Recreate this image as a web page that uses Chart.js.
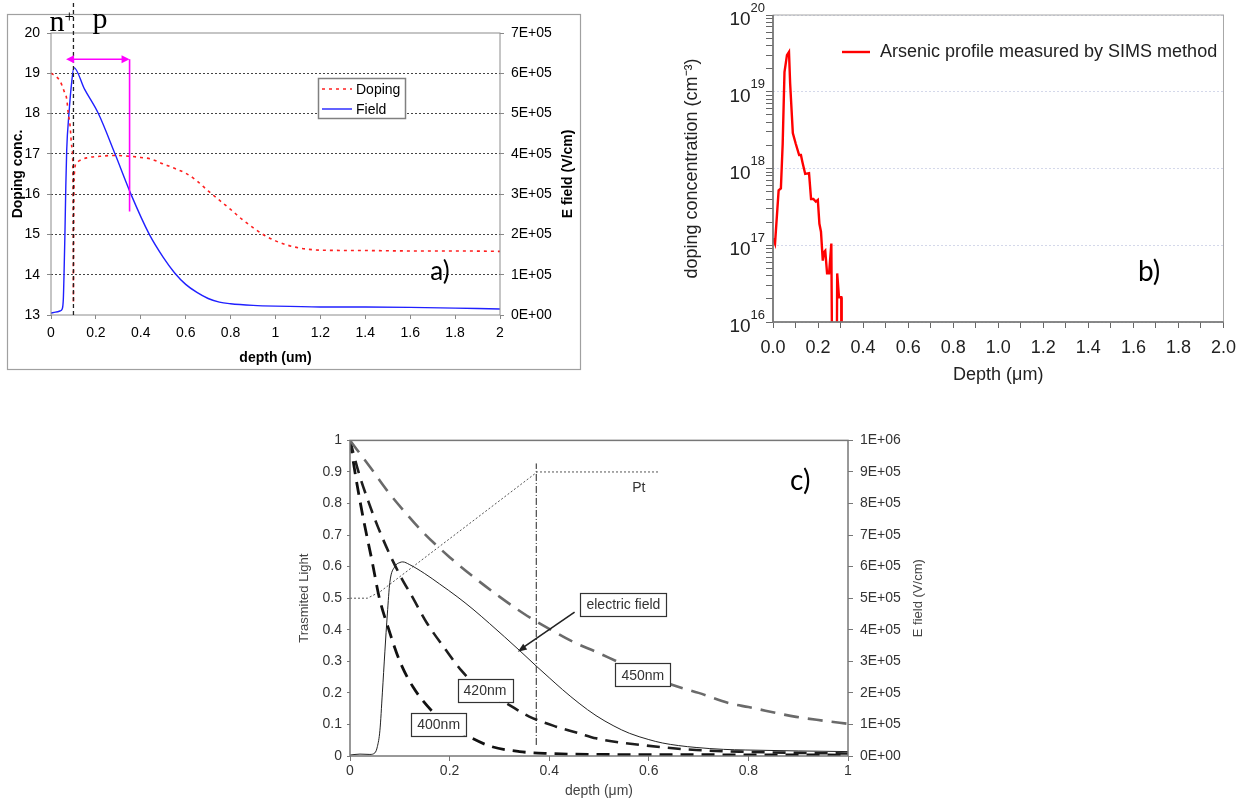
<!DOCTYPE html>
<html>
<head>
<meta charset="utf-8">
<script src="https://cdn.jsdelivr.net/npm/chart.js@4.4.1/dist/chart.umd.min.js"></script>
<style>
  body { margin: 0; background: #fff; width: 1251px; height: 801px; overflow: hidden; position: relative; }
  canvas { position: absolute; }
</style>
</head>
<body>
<canvas id="chartA" width="590" height="375" style="left:0;top:0"></canvas>
<canvas id="chartB" width="570" height="395" style="left:675px;top:0"></canvas>
<canvas id="chartC" width="660" height="376" style="left:285px;top:425px"></canvas>
<script>
// ---- a) simulated doping profile and field ----
const depthA = [0, 0.02, 0.04, 0.058, 0.07, 0.077, 0.085, 0.092, 0.097, 0.099,
  0.1, 0.101, 0.104, 0.114, 0.13, 0.159, 0.218, 0.285, 0.352, 0.4,
  0.441, 0.5, 0.55, 0.6, 0.65, 0.7, 0.75, 0.8, 0.85, 0.9,
  0.95, 1.0, 1.05, 1.1, 1.15, 1.2, 1.4, 1.6, 1.8, 2.0];
const dopingA = [19.0, 18.93, 18.81, 18.56, 18.36, 18.0, 17.7, 17.2, 16.8, 15.0,
  13.3, 15.0, 16.5, 16.78, 16.84, 16.9, 16.94, 16.96, 16.94, 16.91,
  16.88, 16.75, 16.64, 16.52, 16.33, 16.08, 15.85, 15.62, 15.38, 15.17,
  14.98, 14.84, 14.74, 14.67, 14.63, 14.61, 14.6, 14.59, 14.59, 14.58];
const fieldDepthA = [0, 0.02, 0.04, 0.05, 0.055, 0.058, 0.062, 0.066, 0.07, 0.08,
  0.092, 0.102, 0.15, 0.211, 0.285, 0.356, 0.438, 0.5, 0.55, 0.6,
  0.65, 0.7, 0.75, 0.8, 0.9, 1.0, 1.2, 1.4, 1.6, 1.8, 2.0];
const fieldA = [5e3, 7e3, 1e4, 1.5e4, 4e4, 1.0e5, 2.0e5, 3.2e5, 4.1e5, 5.0e5,
  5.77e5, 6.14e5, 5.6e5, 5.0e5, 4.0e5, 3.0e5, 2.0e5, 1.43e5, 1.05e5, 7.6e4,
  5.6e4, 4.1e4, 3.2e4, 2.8e4, 2.4e4, 2.2e4, 2.0e4, 2.0e4, 1.9e4, 1.7e4, 1.5e4];
const depthTicksA = [0, 0.2, 0.4, 0.6, 0.8, 1, 1.2, 1.4, 1.6, 1.8, 2];
const dopingTicksA = [13, 14, 15, 16, 17, 18, 19, 20];
const fieldTicksA = [0, 1e5, 2e5, 3e5, 4e5, 5e5, 6e5, 7e5];
const fieldLabelsA = ['0E+00', '1E+05', '2E+05', '3E+05', '4E+05', '5E+05', '6E+05', '7E+05'];
const junctionA = 0.1;
const depletionA = [0.067, 0.35];   // magenta arrow ends (um)
const depletionLevelsA = [19.35, 15.57];

// ---- b) SIMS arsenic profile ----
const depthB = [0, 0.009, 0.025, 0.035, 0.043, 0.051, 0.062, 0.071, 0.076, 0.088,
  0.101, 0.116, 0.124, 0.131, 0.143, 0.16, 0.169, 0.179, 0.19, 0.199,
  0.206, 0.213, 0.221, 0.226, 0.232, 0.24, 0.249, 0.259, 0.268, 0.279,
  0.285, 0.293, 0.303, 0.305];
const arsenicB = [1.23e17, 1.05e17, 5.2e17, 5.5e17, 2.1e18, 1.8e19, 3.0e19, 3.3e19, 1.3e19, 2.9e18,
  2.1e18, 1.5e18, 1.5e18, 1.2e18, 8.5e17, 8.7e17, 4.0e17, 4.0e17, 3.7e17, 3.9e17,
  1.9e17, 1.5e17, 6.3e16, 8.1e16, 8.5e16, 4.3e16, 4.3e16, 1.05e17, 1e13, 1e13,
  4.3e16, 2.1e16, 2.1e16, 1e13];
const depthTicksB = [0, 0.1, 0.2, 0.3, 0.4, 0.5, 0.6, 0.7, 0.8, 0.9, 1.0,
  1.1, 1.2, 1.3, 1.4, 1.5, 1.6, 1.7, 1.8, 1.9, 2.0];
const depthLabelsB = ['0.0', '', '0.2', '', '0.4', '', '0.6', '', '0.8', '', '1.0',
  '', '1.2', '', '1.4', '', '1.6', '', '1.8', '', '2.0'];
const decadesB = [1e16, 1e17, 1e18, 1e19, 1e20];
const exponentsB = ['16', '17', '18', '19', '20'];
const mantissasB = [1, 2, 3, 4, 5, 6, 7, 8, 9];

// ---- c) transmitted light and field ----
const depth450 = [0, 0.041, 0.075, 0.108, 0.149, 0.2, 0.25, 0.3, 0.35, 0.4,
  0.45, 0.494, 0.55, 0.6, 0.648, 0.7, 0.762, 0.8, 0.896, 0.95, 1.0];
const light450 = [1.0, 0.914, 0.84, 0.777, 0.705, 0.63, 0.565, 0.505, 0.45, 0.403,
  0.36, 0.33, 0.29, 0.258, 0.225, 0.2, 0.167, 0.155, 0.124, 0.112, 0.102];
const depth420 = [0, 0.018, 0.037, 0.056, 0.078, 0.103, 0.123, 0.155, 0.193, 0.223,
  0.26, 0.314, 0.36, 0.414, 0.46, 0.494, 0.595, 0.695, 0.8, 0.9, 1.0];
const light420 = [1.0, 0.895, 0.806, 0.726, 0.645, 0.565, 0.51, 0.42, 0.335, 0.272,
  0.215, 0.167, 0.125, 0.093, 0.072, 0.056, 0.033, 0.019, 0.013, 0.01, 0.008];
const depth400 = [0, 0.012, 0.027, 0.044, 0.059, 0.076, 0.1, 0.126, 0.166, 0.2,
  0.233, 0.28, 0.34, 0.4, 0.5, 0.7, 1.0];
const light400 = [1.0, 0.88, 0.75, 0.62, 0.5, 0.41, 0.3, 0.22, 0.14, 0.095,
  0.066, 0.032, 0.014, 0.008, 0.005, 0.004, 0.003];
const depthFieldC = [0, 0.02, 0.04, 0.05, 0.055, 0.06, 0.065, 0.07, 0.075, 0.08,
  0.09, 0.1, 0.106, 0.119, 0.15, 0.18, 0.215, 0.247, 0.28, 0.31,
  0.34, 0.374, 0.4, 0.427, 0.46, 0.494, 0.53, 0.561, 0.6, 0.628,
  0.66, 0.695, 0.75, 0.795, 0.9, 1.0];
const fieldC = [3e3, 6e3, 5e3, 1e4, 3e4, 8e4, 2e5, 3.3e5, 4.5e5, 5.5e5,
  6.0e5, 6.13e5, 6.15e5, 6.07e5, 5.78e5, 5.45e5, 5.05e5, 4.65e5, 4.2e5, 3.78e5,
  3.35e5, 2.85e5, 2.48e5, 2.1e5, 1.67e5, 1.28e5, 9.5e4, 7.2e4, 5.2e4, 4.1e4,
  3.3e4, 2.7e4, 2.1e4, 1.9e4, 1.6e4, 1.4e4];
const depthPt = [0, 0.035, 0.06, 0.376, 0.62];
const ptC = [0.5, 0.5, 0.52, 0.9, 0.9];
const depthEdge = [0.374, 0.374];
const edgeC = [0.035, 0.927];
const depthTicksC = [0, 0.2, 0.4, 0.6, 0.8, 1];
const lightTicksC = [0, 0.1, 0.2, 0.3, 0.4, 0.5, 0.6, 0.7, 0.8, 0.9, 1];
const fieldTicksC = [0, 1e5, 2e5, 3e5, 4e5, 5e5, 6e5, 7e5, 8e5, 9e5, 1e6];
const fieldLabelsC = ['0E+00', '1E+05', '2E+05', '3E+05', '4E+05', '5E+05',
  '6E+05', '7E+05', '8E+05', '9E+05', '1E+06'];
const boxLabelsC = ['electric field', '450nm', '420nm', '400nm'];
const boxDepthC = [0.549, 0.588, 0.271, 0.178];
const boxLightC = [0.48, 0.257, 0.209, 0.101];

const SANS = '"Liberation Sans", Arial, sans-serif';
const SERIF = '"Liberation Serif", "Times New Roman", serif';
const TAG = 'Lato, "Open Sans", sans-serif';

Chart.defaults.font.family = SANS;
Chart.defaults.color = '#000';

const pts = (xs, ys) => xs.map((x, i) => ({ x: x, y: ys[i] }));
const fix = (prop, size) => s => { s[prop] = size; };
const useTicks = values => s => { s.ticks = values.map(v => ({ value: v })); };
const isDecade = v => Math.abs(Math.log10(v) - Math.round(Math.log10(v))) < 1e-9;

function arrowHead(ctx, x, y, angle, len, half) {
  ctx.save();
  ctx.translate(x, y);
  ctx.rotate(angle);
  ctx.beginPath();
  ctx.moveTo(0, 0);
  ctx.lineTo(-len, -half);
  ctx.lineTo(-len, half);
  ctx.closePath();
  ctx.fill();
  ctx.restore();
}

function vText(ctx, text, x, y, font, color) {
  ctx.save();
  ctx.translate(x, y);
  ctx.rotate(-Math.PI / 2);
  ctx.font = font;
  ctx.fillStyle = color;
  ctx.textAlign = 'center';
  ctx.textBaseline = 'middle';
  ctx.fillText(text, 0, 0);
  ctx.restore();
}

const baseOptions = {
  responsive: false,
  animation: false,
  devicePixelRatio: 1,
  events: []
};

// ---------- a) ----------
const decorA = {
  id: 'decorA',
  afterDatasetsDraw(chart) {
    const { ctx, chartArea: a, scales: { x, y } } = chart;
    ctx.save();
    ctx.strokeStyle = '#8c8c8c';
    ctx.lineWidth = 1;
    ctx.strokeRect(a.left, a.top, a.right - a.left, a.bottom - a.top);
    ctx.strokeStyle = '#a0a0a0';
    ctx.lineWidth = 1.2;
    ctx.strokeRect(7.5, 14.5, 573, 355);

    // junction
    const xj = x.getPixelForValue(junctionA);
    ctx.strokeStyle = '#222';
    ctx.lineWidth = 1.3;
    ctx.setLineDash([4, 3]);
    ctx.beginPath();
    ctx.moveTo(xj, 3);
    ctx.lineTo(xj, a.bottom);
    ctx.stroke();
    ctx.setLineDash([]);
    ctx.fillStyle = '#000';
    ctx.textAlign = 'left';
    ctx.textBaseline = 'alphabetic';
    ctx.font = '30px ' + SERIF;
    ctx.fillText('n', xj - 24, 31);
    ctx.fillText('p', xj + 19, 28);
    ctx.font = '17px ' + SERIF;
    ctx.fillText('+', xj - 9, 22);

    // depletion width arrow
    const xa0 = x.getPixelForValue(depletionA[0]);
    const xa1 = x.getPixelForValue(depletionA[1]);
    const ya = y.getPixelForValue(depletionLevelsA[0]);
    const yb = y.getPixelForValue(depletionLevelsA[1]);
    ctx.strokeStyle = '#ff00ff';
    ctx.fillStyle = '#ff00ff';
    ctx.lineWidth = 1.6;
    ctx.beginPath();
    ctx.moveTo(xa0 + 5, ya);
    ctx.lineTo(xa1 - 5, ya);
    ctx.moveTo(xa1, ya);
    ctx.lineTo(xa1, yb);
    ctx.stroke();
    arrowHead(ctx, xa0, ya, Math.PI, 8, 4);
    arrowHead(ctx, xa1, ya, 0, 8, 4);

    // legend
    ctx.fillStyle = '#fff';
    ctx.fillRect(318, 78, 87, 40);
    ctx.strokeStyle = '#808080';
    ctx.lineWidth = 1.5;
    ctx.strokeRect(318.5, 78.5, 87, 40);
    chart.data.datasets.forEach((ds, i) => {
      const ly = 89 + i * 20;
      ctx.strokeStyle = ds.borderColor;
      ctx.lineWidth = ds.borderWidth;
      ctx.setLineDash(ds.borderDash || []);
      ctx.beginPath();
      ctx.moveTo(322, ly);
      ctx.lineTo(352, ly);
      ctx.stroke();
      ctx.setLineDash([]);
      ctx.fillStyle = '#000';
      ctx.font = '14px ' + SANS;
      ctx.textBaseline = 'middle';
      ctx.fillText(ds.label, 356, ly + 1);
    });

    // right axis title and panel tag
    vText(ctx, 'E field (V/cm)', 568, (a.top + a.bottom) / 2, 'bold 14px ' + SANS, '#000');
    ctx.font = '26px ' + TAG;
    ctx.fillStyle = '#000';
    ctx.textAlign = 'center';
    ctx.textBaseline = 'middle';
    ctx.fillText('a)', x.getPixelForValue(1.733), y.getPixelForValue(14.08));
    ctx.restore();
  }
};

new Chart(document.getElementById('chartA'), {
  type: 'line',
  data: {
    datasets: [
      { label: 'Doping', data: pts(depthA, dopingA), yAxisID: 'y', borderColor: '#ff2020',
        borderWidth: 1.6, borderDash: [3, 4], pointRadius: 0, cubicInterpolationMode: 'monotone' },
      { label: 'Field', data: pts(fieldDepthA, fieldA), yAxisID: 'y2', borderColor: '#2020ff',
        borderWidth: 1.4, pointRadius: 0, cubicInterpolationMode: 'monotone' }
    ]
  },
  options: Object.assign({}, baseOptions, {
    layout: { padding: { left: 8, top: 33, right: 8, bottom: 6 } },
    plugins: { legend: { display: false }, tooltip: { enabled: false } },
    scales: {
      x: {
        type: 'linear', min: 0, max: 2,
        afterBuildTicks: useTicks(depthTicksA), afterFit: fix('height', 54),
        grid: { drawOnChartArea: false, tickLength: 4, color: '#888' },
        border: { display: false },
        ticks: { autoSkip: false, maxRotation: 0, padding: 6, color: '#000', font: { size: 14 },
          callback: v => String(v) },
        title: { display: true, text: 'depth (um)', color: '#000', font: { size: 14, weight: 'bold' },
          padding: { top: 0, bottom: 2 } }
      },
      y: {
        type: 'linear', position: 'left', min: 13, max: 20,
        afterBuildTicks: useTicks(dopingTicksA), afterFit: fix('width', 43),
        grid: {
          color: c => (c.tick && (c.tick.value === 13 || c.tick.value === 20)) ? 'rgba(0,0,0,0)' : '#444',
          tickColor: '#888', tickLength: 4, lineWidth: 1
        },
        border: { display: false, dash: [2, 2] },
        ticks: { padding: 7, color: '#000', font: { size: 14 } },
        title: { display: true, text: 'Doping conc.', color: '#000', font: { size: 14, weight: 'bold' },
          padding: { top: 2, bottom: 0 } }
      },
      y2: {
        type: 'linear', position: 'right', min: 0, max: 7e5,
        afterBuildTicks: useTicks(fieldTicksA), afterFit: fix('width', 82),
        grid: { drawOnChartArea: false, color: '#888', tickLength: 4 },
        border: { display: false },
        ticks: { padding: 7, color: '#000', font: { size: 14 }, callback: (v, i) => fieldLabelsA[i] }
      }
    }
  }),
  plugins: [decorA]
});

// ---------- b) ----------
const decorB = {
  id: 'decorB',
  afterDatasetsDraw(chart) {
    const { ctx, chartArea: a, scales: { x, y } } = chart;
    ctx.save();
    ctx.strokeStyle = '#a8a8a8';
    ctx.lineWidth = 1;
    ctx.strokeRect(a.left, a.top, a.right - a.left, a.bottom - a.top);
    ctx.strokeStyle = '#707070';
    ctx.lineWidth = 1.6;
    ctx.beginPath();
    ctx.moveTo(a.left, a.top);
    ctx.lineTo(a.left, a.bottom);
    ctx.lineTo(a.right, a.bottom);
    ctx.stroke();

    // log tick labels 10^n
    ctx.fillStyle = '#222';
    ctx.textBaseline = 'middle';
    decadesB.forEach((v, i) => {
      const yy = y.getPixelForValue(v);
      ctx.font = '13px ' + SANS;
      const ew = ctx.measureText(exponentsB[i]).width;
      ctx.textAlign = 'right';
      ctx.fillText(exponentsB[i], a.left - 8, yy - 7);
      ctx.font = '19px ' + SANS;
      ctx.fillText('10', a.left - 8 - ew, yy + 5);
    });

    // legend
    const ds = chart.data.datasets[0];
    ctx.strokeStyle = ds.borderColor;
    ctx.lineWidth = ds.borderWidth;
    ctx.beginPath();
    ctx.moveTo(167, 52);
    ctx.lineTo(195, 52);
    ctx.stroke();
    ctx.font = '18px ' + SANS;
    ctx.textAlign = 'left';
    ctx.fillStyle = '#222';
    ctx.fillText(ds.label, 205, 52);

    ctx.font = '28px ' + TAG;
    ctx.fillStyle = '#000';
    ctx.textAlign = 'center';
    ctx.fillText('b)', x.getPixelForValue(1.67), y.getPixelForValue(4.5e16));
    ctx.restore();
  }
};

new Chart(document.getElementById('chartB'), {
  type: 'line',
  data: {
    datasets: [
      { label: 'Arsenic profile measured by SIMS method', data: pts(depthB, arsenicB),
        borderColor: '#ff0000', borderWidth: 2.4, pointRadius: 0, tension: 0 }
    ]
  },
  options: Object.assign({}, baseOptions, {
    layout: { padding: { left: 0, top: 15, right: 18, bottom: 5 } },
    plugins: { legend: { display: false }, tooltip: { enabled: false } },
    scales: {
      x: {
        type: 'linear', min: 0, max: 2,
        afterBuildTicks: useTicks(depthTicksB), afterFit: fix('height', 68),
        grid: { drawOnChartArea: false, tickLength: 6, color: '#666' },
        border: { display: false },
        ticks: { autoSkip: false, maxRotation: 0, padding: 9, color: '#222', font: { size: 18 },
          callback: (v, i) => depthLabelsB[i] },
        title: { display: true, text: 'Depth (μm)', color: '#222', font: { size: 18 },
          padding: { top: 0, bottom: 4 } }
      },
      y: {
        type: 'logarithmic', min: 1e16, max: 1e20,
        afterBuildTicks: s => {
          s.ticks = decadesB.slice(0, -1).flatMap(d => mantissasB.map(m => ({ value: m * d })))
            .concat([{ value: decadesB[decadesB.length - 1] }]);
        },
        afterFit: fix('width', 98),
        grid: {
          color: c => (c.tick && isDecade(c.tick.value)) ? '#d4d8ea' : 'rgba(0,0,0,0)',
          tickColor: '#666', tickLength: 7
        },
        border: { display: false, dash: [2, 2] },
        ticks: { display: false },
        title: { display: true, text: 'doping concentration (cm⁻³)', color: '#222', font: { size: 18 },
          padding: { top: 6, bottom: 0 } }
      }
    }
  }),
  plugins: [decorB]
});

// ---------- c) ----------
const decorC = {
  id: 'decorC',
  afterDatasetsDraw(chart) {
    const { ctx, chartArea: a, scales: { x, y } } = chart;
    ctx.save();
    ctx.strokeStyle = '#777';
    ctx.lineWidth = 1.5;
    ctx.strokeRect(a.left, a.top, a.right - a.left, a.bottom - a.top);

    vText(ctx, 'E field (V/cm)', 633, (a.top + a.bottom) / 2, '13px ' + SANS, '#444');

    // arrow to the field curve
    const x0 = x.getPixelForValue(0.451), y0 = y.getPixelForValue(0.456);
    const x1 = x.getPixelForValue(0.337), y1 = y.getPixelForValue(0.33);
    ctx.strokeStyle = '#222';
    ctx.fillStyle = '#222';
    ctx.lineWidth = 1.6;
    ctx.beginPath();
    ctx.moveTo(x0, y0);
    ctx.lineTo(x1 + 4, y1 - 3.5);
    ctx.stroke();
    arrowHead(ctx, x1, y1, Math.atan2(y1 - y0, x1 - x0), 9, 3.5);

    // boxed labels
    ctx.font = '14px ' + SANS;
    ctx.textAlign = 'center';
    ctx.textBaseline = 'middle';
    boxLabelsC.forEach((t, i) => {
      const cx = x.getPixelForValue(boxDepthC[i]);
      const cy = y.getPixelForValue(boxLightC[i]);
      const w = ctx.measureText(t).width + 12, h = 23;
      ctx.fillStyle = '#fff';
      ctx.fillRect(cx - w / 2, cy - h / 2, w, h);
      ctx.strokeStyle = '#333';
      ctx.lineWidth = 1.2;
      ctx.strokeRect(Math.round(cx - w / 2) + 0.5, Math.round(cy - h / 2) + 0.5, Math.round(w), h);
      ctx.fillStyle = '#333';
      ctx.fillText(t, cx, cy + 1);
    });

    ctx.fillStyle = '#333';
    ctx.fillText('Pt', x.getPixelForValue(0.58), y.getPixelForValue(0.849));
    ctx.font = '28px ' + TAG;
    ctx.fillStyle = '#000';
    ctx.fillText('c)', x.getPixelForValue(0.904), y.getPixelForValue(0.872));
    ctx.restore();
  }
};

new Chart(document.getElementById('chartC'), {
  type: 'line',
  data: {
    datasets: [
      { label: '450nm', data: pts(depth450, light450), yAxisID: 'y', borderColor: '#6a6a6a',
        borderWidth: 2.6, borderDash: [15, 9], pointRadius: 0, cubicInterpolationMode: 'monotone' },
      { label: '420nm', data: pts(depth420, light420), yAxisID: 'y', borderColor: '#1e1e1e',
        borderWidth: 2.6, borderDash: [13, 8], pointRadius: 0, cubicInterpolationMode: 'monotone' },
      { label: '400nm', data: pts(depth400, light400), yAxisID: 'y', borderColor: '#111',
        borderWidth: 2.8, borderDash: [13, 8], pointRadius: 0, cubicInterpolationMode: 'monotone' },
      { label: 'electric field', data: pts(depthFieldC, fieldC), yAxisID: 'y2', borderColor: '#222',
        borderWidth: 1, pointRadius: 0, cubicInterpolationMode: 'monotone' },
      { label: 'Pt', data: pts(depthPt, ptC), yAxisID: 'y', borderColor: '#555',
        borderWidth: 1, borderDash: [2, 2], pointRadius: 0, tension: 0 },
      { label: 'edge', data: pts(depthEdge, edgeC), yAxisID: 'y', borderColor: '#222',
        borderWidth: 1, borderDash: [7, 2, 1, 2], pointRadius: 0, tension: 0 }
    ]
  },
  options: Object.assign({}, baseOptions, {
    layout: { padding: { left: 0, top: 15, right: 0, bottom: 0 } },
    plugins: { legend: { display: false }, tooltip: { enabled: false } },
    scales: {
      x: {
        type: 'linear', min: 0, max: 1,
        afterBuildTicks: useTicks(depthTicksC), afterFit: fix('height', 45),
        grid: { drawOnChartArea: false, tickLength: 5, color: '#777' },
        border: { display: false },
        ticks: { autoSkip: false, maxRotation: 0, padding: 2, color: '#333', font: { size: 14 },
          callback: v => String(v) },
        title: { display: true, text: 'depth (μm)', color: '#444', font: { size: 14 },
          padding: { top: 0, bottom: 1 } }
      },
      y: {
        type: 'linear', position: 'left', min: 0, max: 1,
        afterBuildTicks: useTicks(lightTicksC), afterFit: fix('width', 65),
        grid: { drawOnChartArea: false, tickLength: 3, color: '#777' },
        border: { display: false },
        ticks: { padding: 5, color: '#333', font: { size: 14 }, callback: v => String(v) },
        title: { display: true, text: 'Trasmited Light', color: '#444', font: { size: 13 },
          padding: { top: 12, bottom: 0 } }
      },
      y2: {
        type: 'linear', position: 'right', min: 0, max: 1e6,
        afterBuildTicks: useTicks(fieldTicksC), afterFit: fix('width', 97),
        grid: { drawOnChartArea: false, tickLength: 5, color: '#777' },
        border: { display: false },
        ticks: { padding: 7, color: '#333', font: { size: 14 }, callback: (v, i) => fieldLabelsC[i] }
      }
    }
  }),
  plugins: [decorC]
});
</script>
</body>
</html>
